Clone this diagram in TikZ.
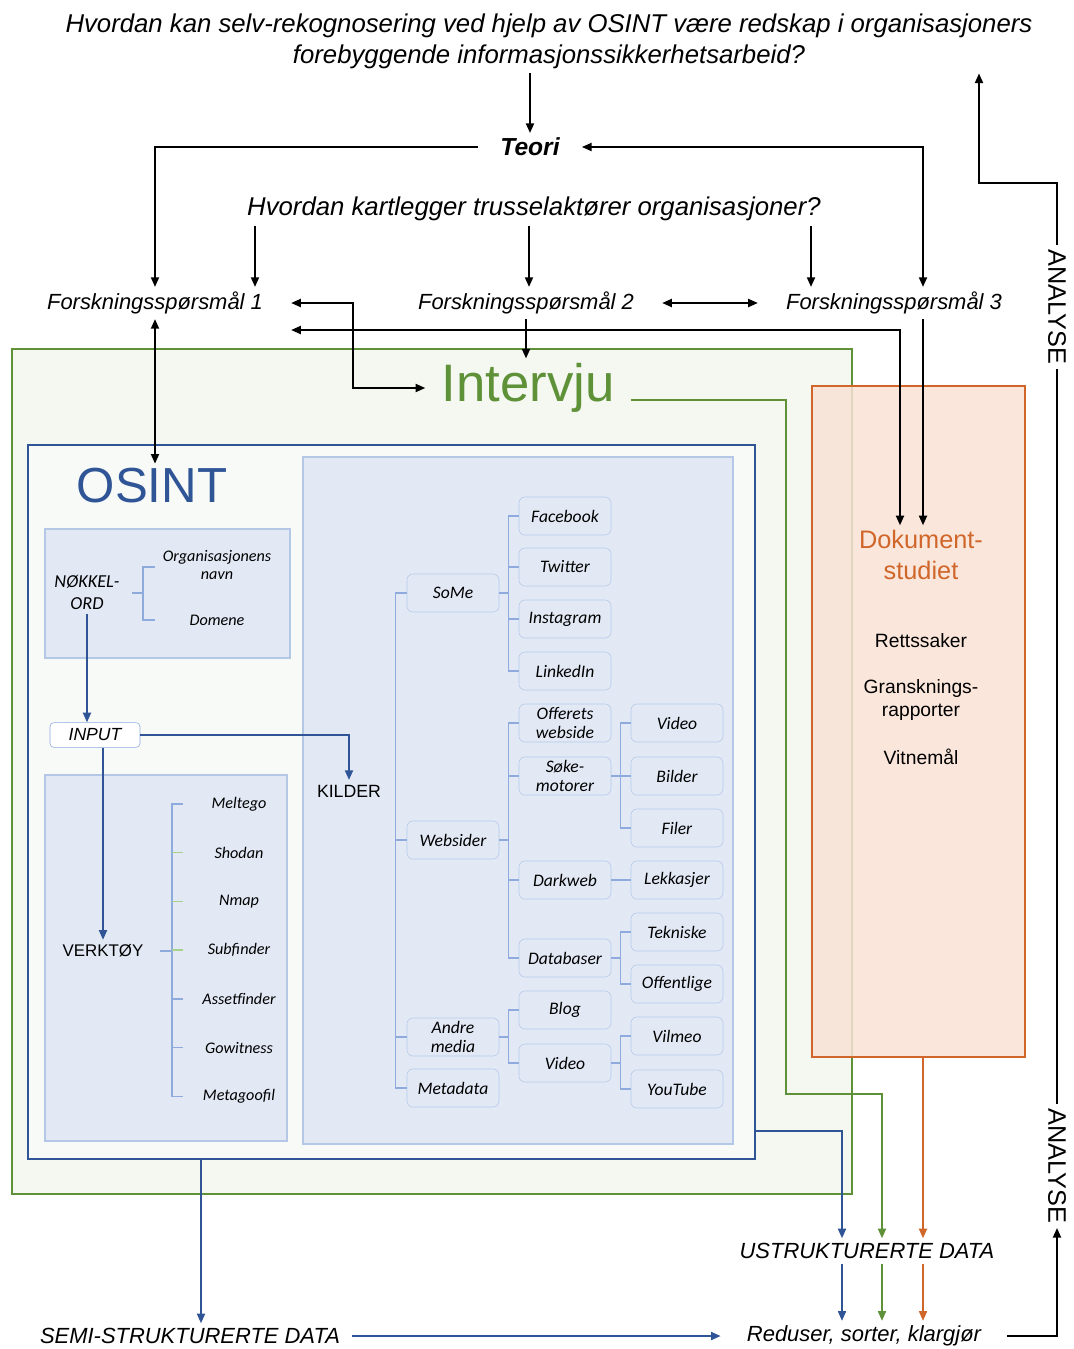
\documentclass[tikz,border=0pt]{standalone}
\usepackage{fontspec}
\setmainfont{Liberation Sans}
\newfontfamily\calfont{Carlito}
\usetikzlibrary{positioning,arrows.meta,calc,fit}
\definecolor{osblue}{HTML}{2F5597}
\definecolor{ltblue}{HTML}{E2E9F5}
\definecolor{edblue}{HTML}{B4C7E7}
\definecolor{trblue}{HTML}{8FAADC}
\definecolor{ivgreen}{HTML}{5E9138}
\definecolor{ivfill}{HTML}{F4F8F0}
\definecolor{osfill}{HTML}{F8FAF7}
\definecolor{dkorange}{HTML}{D0662A}
\definecolor{dkfill}{HTML}{F9E2D5}
\definecolor{tlgreen}{HTML}{A9D18E}

\begin{document}
\begin{tikzpicture}[
    x=0.025cm, y=-0.025cm,
    arr/.style={-{Triangle[length=2.4mm,width=2mm]}, line width=1.3pt},
    biarr/.style={{Triangle[length=2.4mm,width=2mm]}-{Triangle[length=2.4mm,width=2mm]}, line width=1.3pt},
    barr/.style={arr, draw=osblue},
    tree/.style={draw=trblue, line width=1pt},
    panel/.style={draw=edblue, fill=ltblue, line width=1pt, inner sep=0pt},
    src/.style={draw=edblue, fill=ltblue, rounded corners=1.5mm, minimum width=2.3cm, minimum height=0.95cm, inner sep=1pt, align=center, font=\calfont\itshape\fontsize{12.5}{13.5}\selectfont},
    tool/.style={align=center, font=\calfont\itshape\fontsize{11.5}{13}\selectfont},
    fsq/.style={font=\itshape\fontsize{15.6}{18}\selectfont, inner xsep=0.7cm},
    hd/.style={align=center, font=\itshape\fontsize{18.3}{22}\selectfont},
    datalbl/.style={font=\itshape\fontsize{15.6}{18}\selectfont},
    dok/.style={align=center, font=\fontsize{13.7}{16.4}\selectfont},
    vert/.style={rotate=-90, inner xsep=3pt, font=\fontsize{18}{20}\selectfont}
]
\useasboundingbox (0,0) rectangle (1073,1349);

% frames
\node[draw=ivgreen, fill=ivfill, line width=1.5pt, inner sep=0pt, fit={(12,349)(852,1194)}] (ivbox) {};
\node[draw=osblue, fill=osfill, line width=1.8pt, inner sep=0pt, fit={(28,445)(755,1159)}] (osbox) {};
\node[panel, fit={(45,529)(290,658)}] (kwbox) {};
\node[panel, fit={(45,775)(287,1141)}] (vkbox) {};
\node[panel, fit={(303,457)(733,1144)}] (kdbox) {};

% questions and theory
\node[hd] (rq) at (549,41) {Hvordan kan selv-rekognosering ved hjelp av OSINT være redskap i organisasjoners\\forebyggende informasjonssikkerhetsarbeid?};
\node[hd, font=\bfseries\itshape\fontsize{17.5}{22}\selectfont, inner xsep=0.55cm] (teori) at (530,147) {Teori};
\node[hd] (q2) at (534,209) {Hvordan kartlegger trusselaktører organisasjoner?};
\node[fsq] (fs1) at (155,303) {Forskningsspørsmål 1};
\node[fsq] (fs2) at (526,303) {Forskningsspørsmål 2};
\node[fsq] (fs3) at (894,303) {Forskningsspørsmål 3};

\node[text=ivgreen, inner xsep=0.4cm, font=\fontsize{37.5}{40}\selectfont] (iv) at (528,388) {Intervju};
\node[text=osblue, font=\fontsize{35}{40}\selectfont] (ost) at (152,486) {OSINT};

% keywords
\node[align=center, font=\calfont\itshape\fontsize{13}{15.6}\selectfont] (nk) at (87,592) {NØKKEL-\\ORD};
\node[tool] (org) at (217,565) {Organisasjonens\\navn};
\node[tool] (dom) at (217,620) {Domene};
\draw[tree] (132,593) -- (143,593);
\draw[tree] (155,567) -| (143,620) -- (155,620);

\node[draw=trblue, fill=white, rounded corners=1mm, minimum width=2.25cm, minimum height=0.62cm, inner sep=0pt, font=\itshape\fontsize{12.5}{14}\selectfont] (inp) at (95,735) {INPUT};

% tools
\node[font=\fontsize{12}{14}\selectfont] (verk) at (103,951) {VERKTØY};
\foreach \t [count=\i] in {Meltego,Shodan,Nmap,Subfinder,Assetfinder,Gowitness,Metagoofil}
    \node[tool] (t\i) at (239,{755.3+48.7*\i}) {\t};
\draw[tree] (160,951) -- (172,951);
\draw[tree] (183,0 |- t1) -| (172,0 |- t7) -- (183,0 |- t7);
\foreach \i in {2,3,4} \draw[tree, draw=tlgreen] (172,0 |- t\i) -- (183,0 |- t\i);
\foreach \i in {5,6} \draw[tree] (172,0 |- t\i) -- (183,0 |- t\i);

% sources
\node[font=\fontsize{12.6}{14}\selectfont] (kild) at (349,791) {KILDER};
\node[src] (some) at (453,593) {SoMe};
\node[src] (webs) at (453,840) {Websider};
\node[src] (andre) at (453,1037) {Andre\\media};
\node[src] (meta) at (453,1088) {Metadata};
\foreach \n/\y/\t in {fb/516/Facebook, tw/567/Twitter, ig/619/Instagram, li/671/LinkedIn, off/723/{Offerets\\webside}, soke/776/{Søke-\\motorer}, dark/880/Darkweb, db/958/Databaser, blog/1010/Blog, vid/1063/Video}
    \node[src] (\n) at (565,\y) {\t};
\foreach \n/\y/\t in {vidw/723/Video, bild/776/Bilder, filer/828/Filer, lekk/880/Lekkasjer, tekn/932/Tekniske, offn/984/Offentlige, vilm/1036/Vilmeo, yt/1089/YouTube}
    \node[src] (\n) at (677,\y) {\t};

\draw[tree] (some.west) -- ++(-11,0) |- (meta.west);
\foreach \c in {webs,andre} \draw[tree] (\c.west) -- ++(-11,0);
\foreach \c in {fb,tw,ig,li} \draw[tree] (some.east) -- ++(9,0) |- (\c.west);
\foreach \c in {off,soke,dark,db} \draw[tree] (webs.east) -- ++(9,0) |- (\c.west);
\foreach \c in {blog,vid} \draw[tree] (andre.east) -- ++(9,0) |- (\c.west);
\foreach \c in {vidw,bild,filer} \draw[tree] (soke.east) -- ++(9,0) |- (\c.west);
\draw[tree] (dark) -- (lekk);
\foreach \c in {tekn,offn} \draw[tree] (db.east) -- ++(9,0) |- (\c.west);
\foreach \c in {vilm,yt} \draw[tree] (vid.east) -- ++(9,0) |- (\c.west);

% document study
\node[draw=dkorange, fill=dkfill, fill opacity=0.85, line width=1.5pt, inner sep=0pt, fit={(812,386)(1025,1057)}] (dkbox) {};
\node[dok, text=dkorange, font=\fontsize{18}{22}\selectfont] (dkt) at (921,555) {Dokument-\\studiet};
\node[dok] (d1) at (921,641) {Rettssaker};
\node[dok] (d2) at (921,700) {Gransknings-\\rapporter};
\node[dok] (d3) at (921,757) {Vitnemål};

% data
\node[datalbl] (ust) at (867,1251) {USTRUKTURERTE DATA};
\node[datalbl, inner xsep=0.3cm] (semi) at (190,1336) {SEMI-STRUKTURERTE DATA};
\node[datalbl, inner xsep=0.65cm] (red) at (864,1336) {Reduser, sorter, klargjør};
\node[vert] (an1) at (1057,1166) {ANALYSE};
\node[vert] (an2) at (1057,307) {ANALYSE};

% connectors
\draw[arr] (teori.north |- rq.south) -- (teori.north);
\draw[arr] (teori.west) -| (fs1.north);
\draw[biarr] (teori.east) -| ($(fs3.north)+(29,0)$);
\foreach \x in {255,529,811} \draw[arr] (\x,0 |- q2.south) -- (\x,0 |- fs1.north);
\draw[biarr] (fs2.east) -- (fs3.west);
\draw[biarr] (fs1.east) -- ++(62,0) |- (iv.west);
\draw[arr] (fs2.south) -- (fs2.south |- iv.north);
\draw[biarr] (fs1.south) -- (fs1.south |- ost.north);
\draw[biarr] ($(fs1.east)+(0,27)$) -| ($(dkt.north)+(-21,0)$);
\draw[arr] ($(fs3.south)+(29,0)$) -- ($(dkt.north)+(2,0)$);

\draw[barr] (nk.south) -- (nk.south |- inp.north);
\draw[barr] (inp.east) -| (kild.north);
\draw[barr] (verk.north |- inp.south) -- (verk.north);

\draw[arr, draw=ivgreen] ($(iv.east)+(0,12)$) -| (786,1094) -| (882,0 |- ust.north);
\draw[barr] (osbox.east |- 0,1131) -| (842,0 |- ust.north);
\draw[arr, draw=dkorange] (dkbox.south -| 923,0) -- (923,0 |- ust.north);
\draw[barr] (osbox.south -| 201,0) -- (201,0 |- semi.north);
\draw[barr] (semi.east) -- (red.west);
\foreach \x/\c in {842/osblue,882/ivgreen,923/dkorange}
    \draw[arr, draw=\c, line width=1pt] (\x,0 |- ust.south) -- (\x,0 |- red.north);

\draw[arr] (red.east) -| (an1.east);
\draw[line width=1.3pt] (an1.west) -- (an2.east);
\draw[arr] (an2.west) -- ++(0,-62) -| (979,0 |- rq.south);
\end{tikzpicture}
\end{document}
